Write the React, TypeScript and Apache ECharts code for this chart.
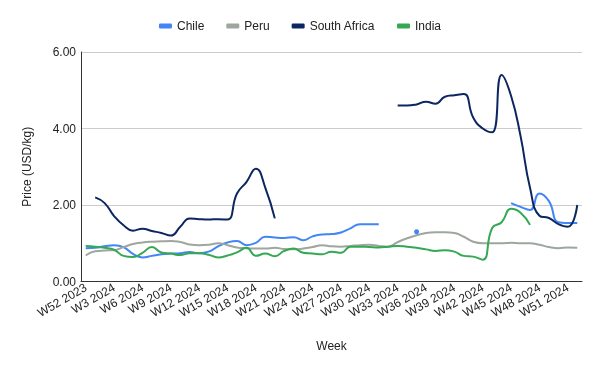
import React, { useEffect, useRef } from "react";
import * as echarts from "echarts";

const weeks: string[] = [
  "W52 2023",
  "W1 2024", "W2 2024", "W3 2024", "W4 2024", "W5 2024", "W6 2024", "W7 2024", "W8 2024", "W9 2024", "W10 2024",
  "W11 2024", "W12 2024", "W13 2024", "W14 2024", "W15 2024", "W16 2024", "W17 2024", "W18 2024", "W19 2024", "W20 2024",
  "W21 2024", "W22 2024", "W23 2024", "W24 2024", "W25 2024", "W26 2024", "W27 2024", "W28 2024", "W29 2024", "W30 2024",
  "W31 2024", "W32 2024", "W33 2024", "W34 2024", "W35 2024", "W36 2024", "W37 2024", "W38 2024", "W39 2024", "W40 2024",
  "W41 2024", "W42 2024", "W43 2024", "W44 2024", "W45 2024", "W46 2024", "W47 2024", "W48 2024", "W49 2024", "W50 2024",
  "W51 2024", "W52 2024",
];

const chile: (number | null)[] = [
  0.87, 0.88, 0.92, 0.95, 0.9, 0.72, 0.63, 0.67, 0.71, 0.73,
  0.74, 0.77, 0.74, 0.78, 0.92, 1.02, 1.06, 0.95, 1.01, 1.17,
  1.15, 1.14, 1.16, 1.08, 1.18, 1.23, 1.24, 1.28, 1.39, 1.5,
  1.5, 1.5, null, null, null, 1.3, null, null, null, null,
  null, null, null, null, null, 2.05, 1.95, 1.87, 2.3, 2.1,
  1.55, 1.53, 1.53,
];

const peru: (number | null)[] = [
  0.68, 0.79, 0.81, 0.82, 0.9, 0.98, 1.02, 1.04, 1.05, 1.06,
  1.03, 0.97, 0.95, 0.96, 1.0, 0.95, 0.89, 0.87, 0.86, 0.86,
  0.88, 0.85, 0.84, 0.86, 0.9, 0.95, 0.92, 0.91, 0.93, 0.95,
  0.96, 0.93, 0.91, 1.03, 1.13, 1.21, 1.27, 1.29, 1.29, 1.27,
  1.17, 1.04, 1.0, 1.0, 1.0, 1.01, 1.0, 1.0, 0.96, 0.9,
  0.87, 0.89, 0.88,
];

const southAfrica: (number | null)[] = [
  null, 2.2, 2.05, 1.71, 1.47, 1.33, 1.38, 1.32, 1.27, 1.2,
  1.43, 1.65, 1.63, 1.62, 1.63, 1.62, 2.3, 2.6, 2.95, 2.45,
  1.65, null, null, null, null, null, null, null, null, null,
  null, null, null, 4.6, 4.6, 4.63, 4.7, 4.65, 4.83, 4.87,
  4.9, 4.28, 4.0, 3.9, 5.4, 4.85, 3.8, 2.45, 1.72, 1.66,
  1.5, 1.43, 2.0,
];

const india: (number | null)[] = [
  0.93, 0.91, 0.88, 0.83, 0.67, 0.64, 0.75, 0.9, 0.76, 0.73,
  0.69, 0.74, 0.74, 0.7, 0.63, 0.68, 0.76, 0.88, 0.67, 0.73,
  0.66, 0.8, 0.86, 0.75, 0.73, 0.71, 0.78, 0.75, 0.91, 0.91,
  0.9, 0.89, 0.91, 0.93, 0.91, 0.88, 0.84, 0.8, 0.82, 0.78,
  0.67, 0.65, 0.57, 1.4, 1.55, 1.9, 1.8, 1.48, null, null,
  null, null, null,
];

const seriesNames = ["Chile", "Peru", "South Africa", "India"];
const seriesColors = ["#4285f4", "#9ea69e", "#0b2660", "#34a853"];
const seriesData = [chile, peru, southAfrica, india];

const FONT = "Liberation Sans, Arial, sans-serif";

function isIsolated(arr: (number | null)[], i: number): boolean {
  if (arr[i] == null) return false;
  const prev = i > 0 ? arr[i - 1] : null;
  const next = i < arr.length - 1 ? arr[i + 1] : null;
  return prev == null && next == null;
}

export default function App() {
  const ref = useRef<HTMLDivElement>(null);
  useEffect(() => {
    if (!ref.current) return;
    const chart = echarts.init(ref.current, null, { renderer: "svg" });
    chart.setOption({
      animation: false,
      textStyle: { fontFamily: FONT },
      legend: {
        top: 15,
        left: "center",
        itemWidth: 13,
        itemHeight: 5,
        itemGap: 22,
        icon: "roundRect",
        textStyle: { fontSize: 12, color: "#222", fontFamily: FONT },
        data: seriesNames,
      },
      grid: { left: 81, right: 18, top: 52, bottom: 89.5, containLabel: false },
      xAxis: {
        type: "category",
        data: weeks,
        boundaryGap: true,
        name: "Week",
        nameLocation: "middle",
        nameGap: 58,
        nameTextStyle: { fontSize: 12, color: "#222", fontFamily: FONT },
        axisLine: { lineStyle: { color: "#333", width: 1 } },
        axisTick: { show: false },
        axisLabel: {
          interval: 2,
          rotate: 30,
          fontSize: 12,
          color: "#222",
          margin: 5,
          fontFamily: FONT,
        },
      },
      yAxis: {
        type: "value",
        min: 0,
        max: 6,
        interval: 2,
        name: "Price (USD/kg)",
        nameLocation: "middle",
        nameGap: 48,
        nameTextStyle: { fontSize: 12, color: "#222", fontFamily: FONT },
        axisLine: { show: true, lineStyle: { color: "#333", width: 1 } },
        axisTick: { show: false },
        axisLabel: {
          fontSize: 12,
          color: "#222",
          margin: 5,
          fontFamily: FONT,
          formatter: (v: number) => v.toFixed(2),
        },
        splitLine: { lineStyle: { color: "#cccccc" } },
      },
      series: seriesNames.map((name, k) => ({
        name,
        type: "line",
        data: seriesData[k],
        smooth: true,
        connectNulls: false,
        symbol: "circle",
        showSymbol: true,
        symbolSize: (_v: any, p: any) => (isIsolated(seriesData[k], p.dataIndex) ? 5 : 0),
        color: seriesColors[k],
        lineStyle: { width: 2, color: seriesColors[k] },
        itemStyle: { color: seriesColors[k], borderWidth: 0 },
        z: k === 2 ? 4 : 3,
      })),
    });
    return () => chart.dispose();
  }, []);
  return (
    <div
      ref={ref}
      style={{ position: "fixed", left: 0, top: 0, width: 600, height: 371 }}
    />
  );
}
